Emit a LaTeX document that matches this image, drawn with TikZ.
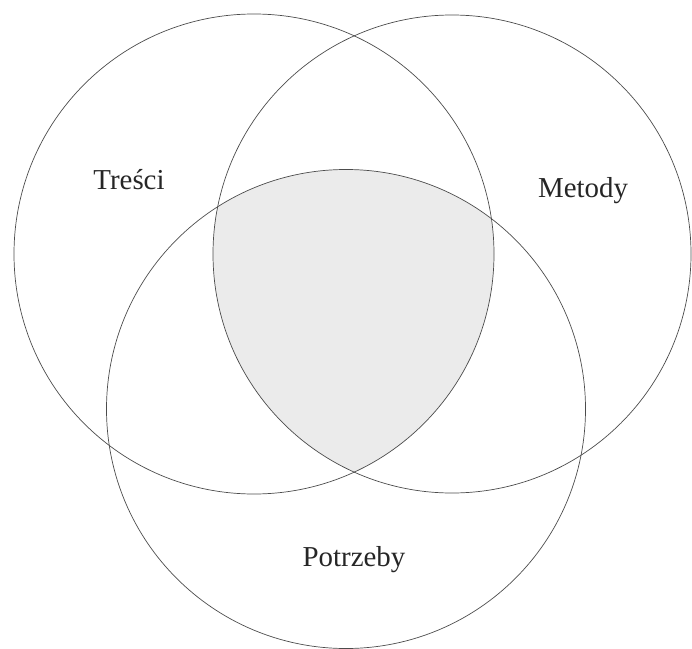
\documentclass[tikz,border=0pt]{standalone}
\usepackage{fontspec}
\setmainfont{Liberation Serif}
\begin{document}
\begin{tikzpicture}[x=1bp, y=-1bp,
        ring/.style={draw=black!70, line width=0.7bp},
        setname/.style={font=\fontsize{29}{35}\selectfont, anchor=base, text=black!85}
    ]
        \useasboundingbox (0,0) rectangle (692,649);
        \coordinate (t) at (254,254);
        \coordinate (m) at (452,254);
        \coordinate (p) at (346,409);

        % common part of the three sets
        \begin{scope}
            \clip (t) circle (240);
            \clip (m) circle (239);
            \fill[black!8] (p) circle (239.5);
        \end{scope}

        \draw[ring] (t) circle (240);
        \draw[ring] (m) circle (239);
        \draw[ring] (p) circle (239.5);

        \node[setname] (tresci) at (129,189) {Treści};
        \node[setname] (metody) at (583,197) {Metody};
        \node[setname] (potrzeby) at (354,566) {Potrzeby};
    \end{tikzpicture}
\end{document}
